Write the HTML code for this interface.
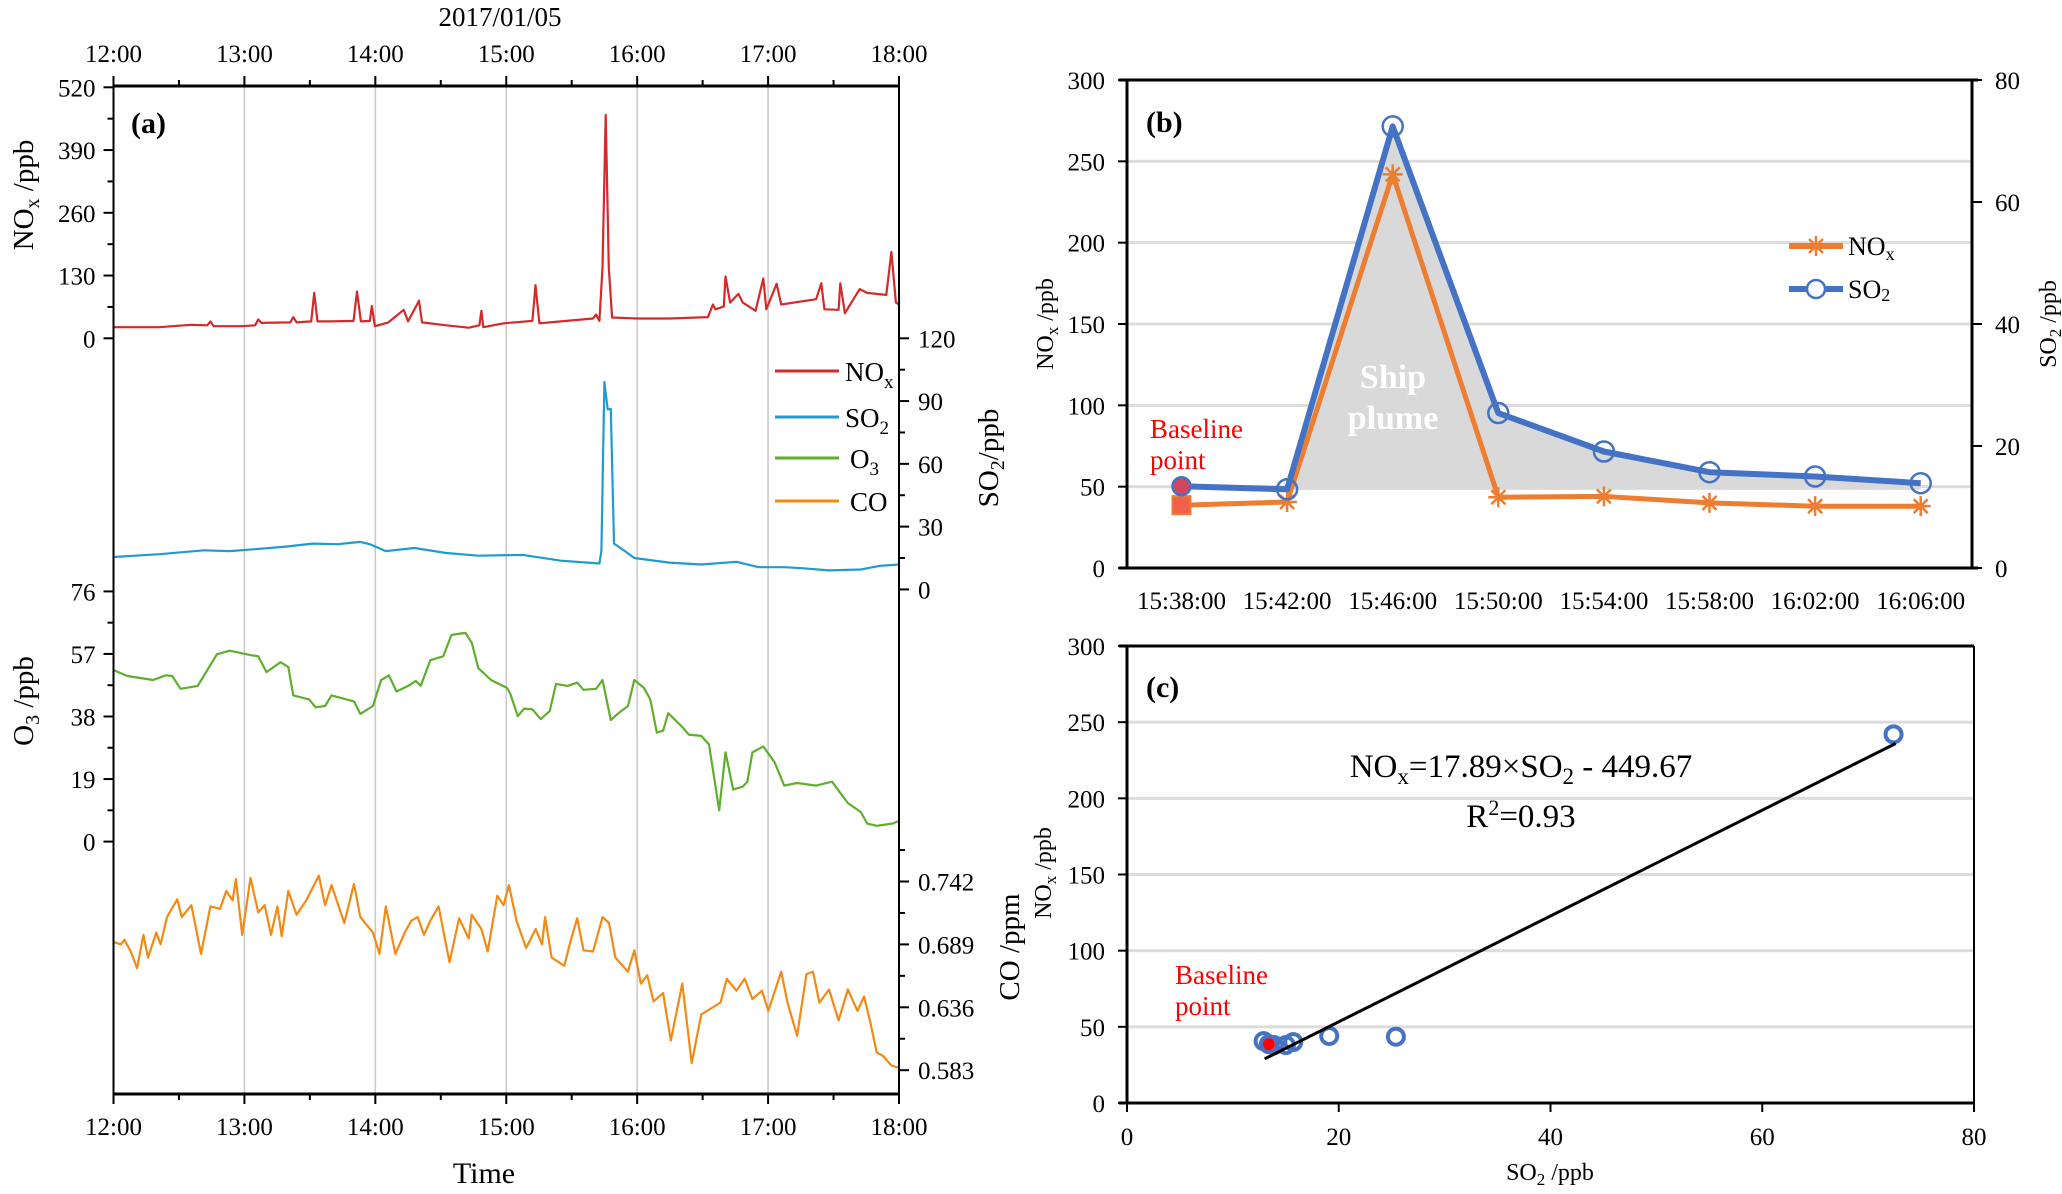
<!DOCTYPE html>
<html><head><meta charset="utf-8"><style>
html,body{margin:0;padding:0;background:#fff;}
svg{display:block;font-family:"Liberation Serif",serif;}
</style></head><body>
<svg id="fig" width="2062" height="1194" viewBox="0 0 2062 1194" xmlns="http://www.w3.org/2000/svg">
<rect x="0" y="0" width="2062" height="1194" fill="#fff"/>
<g id="pa"></g>
<g id="pb"></g>
<g id="pc"></g>
</svg>
<script>
// ---------- Panel (a) data (minutes after 12:00) ----------
const noxT=[0,21,35.7,43,44.4,45.9,59,64.9,66.3,67.8,81,82.4,83.9,90.6,92,93.5,100,110,111.6,113.4,117.5,118.4,119.8,126,133,135,140,141.4,152.5,162.8,167.7,168.6,169.5,178.8,192,193.4,195.2,205,219.8,221.2,222.7,224.1,225.6,227,228.5,240.2,254.8,272.4,274.7,275.9,279.7,280.5,282.6,286.4,288.4,294.3,297.8,299.2,303.9,306,322,324.4,325.8,332.3,333.1,335.2,342,345.4,354.2,356.5,358.6,360];
const noxV=[23,23,28,27,35,25,25,27,39,32,33,44,33,35,94,35,35,36,97,35,36,67,25,33,59,35,78,33,27,22,27,57,23,31,36,110,31,35,41,49,36,146,463,146,43,41,41,44,70,60,66,128,74,92,74,57,124,60,113,70,81,114,60,59,114,52,102,94,90,179,74,70];
const so2T=[0,21,41.5,53.2,64.9,79.5,91.2,102.9,113.1,117.5,124.8,137.9,152.5,167.2,187.6,205.1,222.7,223.6,225,226.5,227.9,229.4,234.4,238.7,254.8,269.4,285.5,295.7,307.4,316.2,327.9,342.5,351.3,360];
const so2V=[15.5,16.8,18.7,18.3,19.2,20.5,21.9,21.6,22.7,21.6,18.3,19.8,17.4,16.1,16.5,13.7,12.4,18.3,99.1,86,86.3,21.9,18.3,15,12.8,11.9,13.2,10.6,10.6,10.1,9.1,9.5,11.3,11.9];
const o3T=[0,6.4,18.1,24,26.9,30.7,38.6,47.4,53.2,63.4,66.3,70.1,76.6,80.1,82.4,89.7,92.6,97,99.9,110.2,113.1,118.9,122.7,126.2,129.7,135,138.5,140.8,145.2,151.1,154.9,161.3,164.2,167.2,173,180.3,181.8,185.3,188.2,192,195.8,199.9,202.8,208.1,212.5,215.4,221.2,224.1,227.9,231.4,235.8,238.7,243.1,246,249,251.9,254.2,260.7,263.6,269.4,272.9,277.6,280.5,284,288.4,290.5,292.8,297.8,303,307.4,313.3,322,329.3,336.6,342.5,345.4,349.8,357.1,360];
const o3V=[52.1,50.3,49.1,50.5,50.3,46.4,47.3,56.9,58,56.6,56.3,51.5,54.5,53,44.4,43.2,40.8,41.2,44.4,42.6,38.8,41.2,49.1,50.5,45.6,47.3,48.8,47.3,55.1,56.3,62.8,63.4,60.4,52.7,49.1,46.7,45,38.1,40.4,40.2,37.2,39.6,47.9,47.3,48.3,46.1,46.4,49.1,36.9,39,41.2,49.1,46.7,43.2,33.1,33.7,39,34.8,32.5,32.1,29.5,9.5,27.1,15.8,16.7,18.2,27.1,28.9,24.1,17,17.8,17,18.2,11.7,9,5.5,4.8,5.5,6.3];
const coT=[0,3.5,5,7.9,10.8,13.7,15.8,19.6,21.6,24.5,29.2,31.3,35.7,40.1,44.4,48.8,51.7,54.6,56.1,59,62.8,66.3,69.3,72.2,75.1,77.1,80.1,83.9,88.3,94.1,97,99.9,105.8,110.2,113.1,118.9,121.9,124.8,129.2,133.5,136.5,139.4,142.3,145.2,149,154,158.4,162.8,164.2,168.6,171.5,175.9,178.8,181.2,184.7,189.1,193.5,196.4,197.8,200.8,206.6,209.5,212.5,215.4,219.8,224.1,227.1,230,235.8,238.7,241.7,244.6,247.5,251.9,255.4,260.7,265,269.4,273.8,278.2,281.1,285.5,289.3,292.8,297.2,300.1,306,308.9,313.3,317.6,320.6,323.5,327.9,332.3,336.6,341,344,346.9,349.8,352.7,356.5,360];
const coV=[0.691,0.689,0.693,0.683,0.669,0.697,0.678,0.699,0.689,0.712,0.727,0.712,0.722,0.681,0.721,0.719,0.734,0.726,0.744,0.697,0.745,0.716,0.722,0.697,0.721,0.696,0.734,0.714,0.726,0.747,0.722,0.739,0.707,0.740,0.712,0.699,0.681,0.721,0.681,0.699,0.709,0.712,0.697,0.709,0.721,0.674,0.711,0.694,0.714,0.702,0.683,0.730,0.722,0.739,0.709,0.686,0.702,0.689,0.712,0.678,0.671,0.692,0.711,0.684,0.683,0.712,0.707,0.678,0.666,0.684,0.656,0.663,0.641,0.648,0.608,0.656,0.589,0.630,0.635,0.640,0.660,0.650,0.660,0.643,0.650,0.633,0.666,0.640,0.612,0.664,0.666,0.640,0.651,0.625,0.651,0.633,0.645,0.623,0.598,0.595,0.587,0.585];
const timeTicks=["12:00","13:00","14:00","15:00","16:00","17:00","18:00"];
const noxTicks=[0,130,260,390,520];
const so2Ticks=[0,30,60,90,120];
const o3Ticks=[0,19,38,57,76];
const coTicks=[0.583,0.636,0.689,0.742];
// ---------- Panel (b) data ----------
const bCats=["15:38:00","15:42:00","15:46:00","15:50:00","15:54:00","15:58:00","16:02:00","16:06:00"];
const bNox=[38.6,40.6,242,43.5,44,40,38,38];
const bSo2=[13.4,12.9,72.4,25.4,19.1,15.7,15.0,13.9];
const bPlumeBase=[48];
const bLeftTicks=[0,50,100,150,200,250,300];
const bRightTicks=[0,20,40,60,80];
// ---------- Panel (c) data ----------
const cX=[13.4,12.9,72.4,25.4,19.1,15.7,15.0,13.9];
const cY=[38.6,40.6,242,43.5,44,40,38,38];
const cFitX=[13,72.6];
const cFitY=[29,236];
const cXTicks=[0,20,40,60,80];
const cYTicks=[0,50,100,150,200,250,300];

const NS="http://www.w3.org/2000/svg";
function mk(parent,tag,attrs,txt){const e=document.createElementNS(NS,tag);for(const k in attrs)e.setAttribute(k,attrs[k]);if(txt!==undefined)e.textContent=txt;parent.appendChild(e);return e;}
function pathD(xs,ys,fx,fy){let d="";for(let i=0;i<xs.length;i++)d+=(i?"L":"M")+fx(xs[i]).toFixed(1)+","+fy(ys[i]).toFixed(1);return d;}

// ===== Panel (a) =====
const A=document.getElementById('pa');
const aL=113.5,aR=899,aT=86,aB=1094;
const xT=m=>aL+m*(aR-aL)/360;
const yNox=v=>338.3-v*(338.3-87.3)/520;
const ySo2=v=>589.4-v*(589.4-338.3)/120;
const yO3=v=>841.6-v*(841.6-591.4)/76;
const yCo=v=>1070.2-(v-0.583)*(1070.2-881.5)/0.159;
// grid
for(let h=1;h<6;h++){const g=mk(A,'line',{x1:xT(h*60),x2:xT(h*60),y1:aT,y2:aB,stroke:'#c8c8c8','stroke-width':1.5});

}
// series
const series=[[noxT,noxV,yNox,'#d42a2a','nox-line'],[so2T,so2V,ySo2,'#1f9bcf','so2-line'],[o3T,o3V,yO3,'#5fae2e','o3-line'],[coT,coV,yCo,'#f28a14','co-line']];
series.forEach(s=>{const p=mk(A,'path',{d:pathD(s[0],s[1],xT,s[2]),fill:'none',stroke:s[3],'stroke-width':2.2,'stroke-linejoin':'round'});

});
// axes frame
mk(A,'line',{x1:aL,x2:aR,y1:aT,y2:aT,stroke:'#000','stroke-width':3});
mk(A,'line',{x1:aL,x2:aR,y1:aB,y2:aB,stroke:'#000','stroke-width':3});
mk(A,'line',{x1:aL,x2:aL,y1:aT,y2:aB,stroke:'#000','stroke-width':2});
mk(A,'line',{x1:aR,x2:aR,y1:aT,y2:aB,stroke:'#000','stroke-width':2});
// time ticks top & bottom
for(let i=0;i<=12;i++){const m=i*30,len=(i%2?6:10);
mk(A,'line',{x1:xT(m),x2:xT(m),y1:aT,y2:aT-len,stroke:'#000','stroke-width':2});
mk(A,'line',{x1:xT(m),x2:xT(m),y1:aB,y2:aB+len,stroke:'#000','stroke-width':2});}
timeTicks.forEach((t,i)=>{
const a=mk(A,'text',{x:xT(i*60),y:62,'font-size':25,'text-anchor':'middle'},t);


const b=mk(A,'text',{x:xT(i*60),y:1135,'font-size':25,'text-anchor':'middle'},t);

});
// left / right value ticks
function vTicks(ticks,fy,side,fmt){const x=side<0?aL:aR;
for(let i=0;i<ticks.length;i++){const y=fy(ticks[i]);
mk(A,'line',{x1:x,x2:x+side*10,y1:y,y2:y,stroke:'#000','stroke-width':2});
if(i<ticks.length-1){const ym=fy((ticks[i]+ticks[i+1])/2);mk(A,'line',{x1:x,x2:x+side*6,y1:ym,y2:ym,stroke:'#000','stroke-width':2});}
const t=mk(A,'text',{x:side<0?x-18:x+19,y:y+9,'font-size':25,'text-anchor':side<0?'end':'start'},fmt(ticks[i]));

}}
vTicks(noxTicks,yNox,-1,v=>String(v));
vTicks(o3Ticks,yO3,-1,v=>String(v));
vTicks(so2Ticks,ySo2,1,v=>String(v));
vTicks(coTicks,yCo,1,v=>v.toFixed(3));
{const y=yCo(0.742+0.0265);mk(A,'line',{x1:aR,x2:aR+6,y1:y,y2:y,stroke:'#000','stroke-width':2});}
</script>
<script>
// static labels panel a
(function(){
const A=document.getElementById('pa');
A.insertAdjacentHTML('beforeend',`
<text x="500" y="26" font-size="27" text-anchor="middle">2017/01/05</text>
<text x="131" y="133" font-size="30" font-weight="bold">(a)</text>
<text transform="translate(33,195) rotate(-90)" font-size="29" text-anchor="middle">NO<tspan font-size="20" dy="6">x</tspan><tspan dy="-6"> /ppb</tspan></text>
<text transform="translate(33,701) rotate(-90)" font-size="29" text-anchor="middle">O<tspan font-size="20" dy="6">3</tspan><tspan dy="-6"> /ppb</tspan></text>
<text transform="translate(998,458) rotate(-90)" font-size="29" text-anchor="middle">SO<tspan font-size="20" dy="6">2</tspan><tspan dy="-6">/ppb</tspan></text>
<text transform="translate(1019,947) rotate(-90)" font-size="29" text-anchor="middle">CO /ppm</text>
<text x="484" y="1183" font-size="30" text-anchor="middle">Time</text>
<g>
<line x1="775" x2="839" y1="371" y2="371" stroke="#d42a2a" stroke-width="3"/>
<text x="845" y="381" font-size="27">NO<tspan font-size="19" dy="7">x</tspan></text>
<line x1="775" x2="839" y1="417" y2="417" stroke="#1f9bcf" stroke-width="3"/>
<text x="845" y="427" font-size="27">SO<tspan font-size="19" dy="7">2</tspan></text>
<line x1="775" x2="839" y1="458" y2="458" stroke="#5fae2e" stroke-width="3"/>
<text x="850" y="468" font-size="27">O<tspan font-size="19" dy="7">3</tspan></text>
<line x1="775" x2="839" y1="501" y2="501" stroke="#f28a14" stroke-width="3"/>
<text x="850" y="511" font-size="27">CO</text>
</g>`);
})();

// ===== Panel (b) =====
(function(){
const B=document.getElementById('pb');
const L=1127,R=1972,T=80,Bo=568;
const xB=i=>1181.5+i*105.6;
const yL=v=>Bo-v*(Bo-T)/300;
const yR=v=>Bo-v*(Bo-T)/80;
bLeftTicks.forEach(v=>{
if(v>0&&v<300){const g=mk(B,'line',{x1:L,x2:R,y1:yL(v),y2:yL(v),stroke:'#dcdcdc','stroke-width':3});

}
mk(B,'line',{x1:L,x2:L-9,y1:yL(v),y2:yL(v),stroke:'#000','stroke-width':2});
const t=mk(B,'text',{x:1105,y:yL(v)+9,'font-size':25,'text-anchor':'end'},String(v));

});
bRightTicks.forEach(v=>{
mk(B,'line',{x1:R,x2:R+10,y1:yR(v),y2:yR(v),stroke:'#000','stroke-width':2});
const t=mk(B,'text',{x:1995,y:yR(v)+9,'font-size':25},String(v));

});
// plume fill
let d="M"+xB(1)+","+yL(bPlumeBase[0]);
for(let i=1;i<bSo2.length;i++)d+="L"+xB(i).toFixed(1)+","+yR(bSo2[i]).toFixed(1);
d+="L"+xB(bSo2.length-1)+","+yL(bPlumeBase[0])+"Z";
const f=mk(B,'path',{d:d,fill:'#d9d9d9'});


// axes
mk(B,'line',{x1:L-8,x2:R+6,y1:T,y2:T,stroke:'#000','stroke-width':3});
mk(B,'line',{x1:L-8,x2:R+6,y1:Bo,y2:Bo,stroke:'#000','stroke-width':3});
mk(B,'line',{x1:L,x2:L,y1:T,y2:Bo,stroke:'#000','stroke-width':3});
mk(B,'line',{x1:R,x2:R,y1:T,y2:Bo,stroke:'#000','stroke-width':3});
const idx=bCats.map((c,i)=>i);
// NOx line
const nl=mk(B,'path',{d:pathD(idx,bNox,xB,yL),fill:'none',stroke:'#ED7D31','stroke-width':5,'stroke-linejoin':'round'});


bNox.forEach((v,i)=>{if(i===0)return;const cx=xB(i),cy=yL(v),s=10;
const g=mk(B,'path',{d:`M${cx-s},${cy}L${cx+s},${cy}M${cx},${cy-s}L${cx},${cy+s}M${cx-7},${cy-7}L${cx+7},${cy+7}M${cx-7},${cy+7}L${cx+7},${cy-7}`,stroke:'#ED7D31','stroke-width':2.5});

});
const sl=mk(B,'path',{d:pathD(idx,bSo2,xB,yR),fill:'none',stroke:'#4472C4','stroke-width':6,'stroke-linejoin':'round'});


bSo2.forEach((v,i)=>{if(i===0)return;
const c=mk(B,'circle',{cx:xB(i),cy:yR(v),r:10,fill:'none',stroke:'#4472C4','stroke-width':2.5});

});
const bs=mk(B,'rect',{x:xB(0)-9,y:yL(bNox[0])-9,width:18,height:18,fill:'#f0604a',stroke:'#ED7D31','stroke-width':2});


const bc=mk(B,'circle',{cx:xB(0),cy:yR(bSo2[0]),r:9,fill:'#d0455f',stroke:'#4472C4','stroke-width':2.5});


bCats.forEach((c,i)=>{const t=mk(B,'text',{x:xB(i),y:609,'font-size':25,'text-anchor':'middle'},c);

});
B.insertAdjacentHTML('beforeend',`
<text x="1146" y="132" font-size="30" font-weight="bold">(b)</text>
<text x="1393" y="388" font-size="34" font-weight="bold" fill="#fff" text-anchor="middle">Ship</text>
<text x="1393" y="429" font-size="34" font-weight="bold" fill="#fff" text-anchor="middle">plume</text>
<text x="1150" y="438" font-size="27" fill="#ff0000">Baseline</text>
<text x="1150" y="469" font-size="27" fill="#ff0000">point</text>
<text transform="translate(1053,324) rotate(-90)" font-size="24" text-anchor="middle">NO<tspan font-size="17" dy="5">x</tspan><tspan dy="-5"> /ppb</tspan></text>
<text transform="translate(2056,324) rotate(-90)" font-size="24" text-anchor="middle">SO<tspan font-size="17" dy="5">2</tspan><tspan dy="-5"> /ppb</tspan></text>
<g>
<line x1="1789" x2="1843" y1="246" y2="246" stroke="#ED7D31" stroke-width="6"/>
<path d="M1806,246L1826,246M1816,236L1816,256M1809,239L1823,253M1809,253L1823,239" stroke="#ED7D31" stroke-width="2.5"/>
<text x="1848" y="255" font-size="26">NO<tspan font-size="18" dy="5">x</tspan></text>
<line x1="1789" x2="1843" y1="289" y2="289" stroke="#4472C4" stroke-width="6"/>
<circle cx="1816" cy="289" r="9" fill="#fff" stroke="#4472C4" stroke-width="2.5"/>
<text x="1848" y="298" font-size="26">SO<tspan font-size="18" dy="3">2</tspan></text>
</g>`);
})();

// ===== Panel (c) =====
(function(){
const C=document.getElementById('pc');
const L=1127,R=1974,T=646,Bo=1103;
const xC=v=>L+v*(R-L)/80;
const yC=v=>Bo-v*(Bo-T)/300;
cYTicks.forEach(v=>{
if(v>0&&v<300){const g=mk(C,'line',{x1:L,x2:R,y1:yC(v),y2:yC(v),stroke:'#dcdcdc','stroke-width':3});

}
mk(C,'line',{x1:L,x2:L-9,y1:yC(v),y2:yC(v),stroke:'#000','stroke-width':2});
const t=mk(C,'text',{x:1105,y:yC(v)+9,'font-size':25,'text-anchor':'end'},String(v));

});
cXTicks.forEach(v=>{
mk(C,'line',{x1:xC(v),x2:xC(v),y1:Bo,y2:Bo+9,stroke:'#000','stroke-width':2});
const t=mk(C,'text',{x:xC(v),y:1145,'font-size':25,'text-anchor':'middle'},String(v));

});
mk(C,'line',{x1:L-8,x2:R,y1:T,y2:T,stroke:'#000','stroke-width':3});
mk(C,'line',{x1:L-8,x2:R,y1:Bo,y2:Bo,stroke:'#000','stroke-width':3});
mk(C,'line',{x1:L,x2:L,y1:T,y2:Bo,stroke:'#000','stroke-width':3});
mk(C,'line',{x1:R,x2:R,y1:T,y2:Bo,stroke:'#000','stroke-width':2});
cX.forEach((v,i)=>{
const c=mk(C,'circle',{cx:xC(v),cy:yC(cY[i]),r:8,fill:'none',stroke:'#4472C4','stroke-width':4});

});
const r=mk(C,'circle',{cx:xC(cX[0]),cy:yC(cY[0]),r:6,fill:'#ff0000'});


const fl=mk(C,'line',{x1:xC(cFitX[0]),y1:yC(cFitY[0]),x2:xC(cFitX[1]),y2:yC(cFitY[1]),stroke:'#000','stroke-width':3});


C.insertAdjacentHTML('beforeend',`
<text x="1146" y="697" font-size="30" font-weight="bold">(c)</text>
<text x="1521" y="777" font-size="33" text-anchor="middle">NO<tspan font-size="23" dy="7">x</tspan><tspan dy="-7">=17.89×SO</tspan><tspan font-size="23" dy="7">2</tspan><tspan dy="-7"> - 449.67</tspan></text>
<text x="1521" y="827" font-size="33" text-anchor="middle">R<tspan font-size="22" dy="-12">2</tspan><tspan dy="12">=0.93</tspan></text>
<text x="1175" y="984" font-size="27" fill="#ff0000">Baseline</text>
<text x="1175" y="1015" font-size="27" fill="#ff0000">point</text>
<text transform="translate(1051,873) rotate(-90)" font-size="24" text-anchor="middle">NO<tspan font-size="17" dy="5">x</tspan><tspan dy="-5"> /ppb</tspan></text>
<text x="1550" y="1180" font-size="24" text-anchor="middle">SO<tspan font-size="17" dy="5">2</tspan><tspan dy="-5"> /ppb</tspan></text>`);
})();
</script>
</body></html>
